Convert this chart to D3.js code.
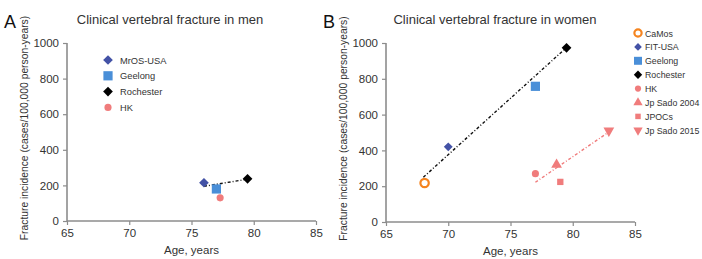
<!DOCTYPE html>
<html><head><meta charset="utf-8">
<script src="https://cdn.jsdelivr.net/npm/d3@7"></script>
<style>body{margin:0;background:#fff}svg{display:block;font-family:"Liberation Sans",Arial,sans-serif}</style>
</head><body><svg id="c" width="702" height="259"></svg>
<script>
const xTicks=[65,70,75,80,85];
const yTicks=[0,200,400,600,800,1000];
// Panel A (men)
const menSeries=["MrOS-USA","Geelong","Rochester","HK"];
const menAge=[76,77,79.5,77.3];
const menInc=[215,180,237,130];
const menLine=[[76,195],[79.5,235]];
// Panel B (women)
const womenSeries=["CaMos","FIT-USA","Geelong","Rochester","HK","Jp Sado 2004","JPOCs","Jp Sado 2015"];
const womenAge=[68.1,70,77,79.5,77,78.7,79,82.9];
const womenInc=[218,420,758,973,270,320,224,510];
const womenLineBlack=[[68,250],[79.5,975]];
const womenLinePink=[[77,222],[82.8,498]];

const style={
 "MrOS-USA":{sym:d3.symbolDiamond2,color:"#4352a6",size:60},
 "FIT-USA":{sym:d3.symbolDiamond2,color:"#4352a6",size:50},
 "Geelong":{sym:d3.symbolSquare,color:"#4a8fd8",size:85},
 "Rochester":{sym:d3.symbolDiamond2,color:"#000",size:60},
 "HK":{sym:d3.symbolCircle,color:"#f07c7c",size:40},
 "CaMos":{sym:d3.symbolCircle,color:"#f5841f",size:55,open:true},
 "Jp Sado 2004":{sym:d3.symbolTriangle,color:"#f07c7c",size:50},
 "JPOCs":{sym:d3.symbolSquare,color:"#f07c7c",size:40},
 "Jp Sado 2015":{sym:d3.symbolTriangle,color:"#f07c7c",size:50,flip:true}
};
const svg=d3.select("#c");
function drawMark(g,name,x,y,scale){
  const s=style[name];
  const p=g.append("path").attr("d",d3.symbol().type(s.sym).size(s.size*(scale||1))())
    .attr("transform",`translate(${x},${y})`+(s.flip?" rotate(180)":""));
  if(s.open) p.attr("fill","none").attr("stroke",s.color).attr("stroke-width",2.2);
  else p.attr("fill",s.color);
}
function panel(opt){
  const x=d3.scaleLinear().domain([65,85]).range([opt.x0,opt.x1]);
  const y=d3.scaleLinear().domain([0,1000]).range([opt.y0,opt.y1]);
  const g=svg.append("g");
  const xa=g.append("g").attr("transform",`translate(0,${opt.y0})`)
    .call(d3.axisBottom(x).tickValues(xTicks).tickFormat(d3.format("d")).tickSize(4).tickPadding(4));
  const ya=g.append("g").attr("transform",`translate(${opt.x0},0)`)
    .call(d3.axisLeft(y).tickValues(yTicks).tickFormat(d3.format("d")).tickSize(4).tickPadding(4));
  [xa,ya].forEach(a=>{
    a.select(".domain").attr("stroke","#8c8c8c").attr("stroke-width",1.6);
    a.selectAll(".tick line").attr("stroke","#8c8c8c").attr("stroke-width",1.2);
    a.selectAll(".tick text").attr("fill","#333").attr("font-size",11.5);
  });
  ya.select(".domain").attr("d",`M0,${opt.y0}V${opt.y1}`);
  xa.select(".domain").attr("d",`M${opt.x0},0H${opt.x1}`);
  g.append("text").attr("x",(opt.x0+opt.x1)/2).attr("y",opt.y0+33).attr("text-anchor","middle")
   .attr("font-size",11.5).attr("fill","#333").text("Age, years");
  g.append("text").attr("transform",`translate(${opt.x0-39},${(opt.y0+opt.y1)/2-4}) rotate(-90)`)
   .attr("text-anchor","middle").attr("font-size",10.3).attr("fill","#333")
   .text("Fracture incidence (cases/100,000 person-years)");
  g.append("text").attr("x",opt.tx).attr("y",24).attr("text-anchor","middle")
   .attr("font-size",13).attr("fill","#333").text(opt.title);
  g.append("text").attr("x",opt.lx).attr("y",28).attr("font-size",18).attr("fill","#111").text(opt.letter);
  opt.lines.forEach(l=>{
    g.append("line").attr("x1",x(l.pts[0][0])).attr("y1",y(l.pts[0][1]))
     .attr("x2",x(l.pts[1][0])).attr("y2",y(l.pts[1][1]))
     .attr("stroke",l.color).attr("stroke-width",1.4).attr("stroke-dasharray","3,2,1,2");
  });
  opt.series.forEach((n,i)=>drawMark(g,n,x(opt.age[i]),y(opt.inc[i])));
  opt.series.forEach((n,i)=>{
    const ly=opt.ly0+i*opt.ldy;
    drawMark(g,n,opt.lmx,ly,opt.lscale);
    g.append("text").attr("x",opt.ltx).attr("y",ly+3.5).attr("font-size",opt.lfs).attr("fill","#333").text(n);
  });
}
panel({x0:67,x1:316,y0:221,y1:43,title:"Clinical vertebral fracture in men",tx:170,letter:"A",lx:4,
  series:menSeries,age:menAge,inc:menInc,lines:[{pts:menLine,color:"#111"}],
  lmx:108,ltx:120,ly0:60,ldy:15.8,lfs:9.3,lscale:1});
panel({x0:386,x1:635,y0:222,y1:43,title:"Clinical vertebral fracture in women",tx:495,letter:"B",lx:323,
  series:womenSeries,age:womenAge,inc:womenInc,
  lines:[{pts:womenLineBlack,color:"#111"},{pts:womenLinePink,color:"#f07c7c"}],
  lmx:638,ltx:645,ly0:33,ldy:13.9,lfs:8.8,lscale:0.75});
</script></body></html>
